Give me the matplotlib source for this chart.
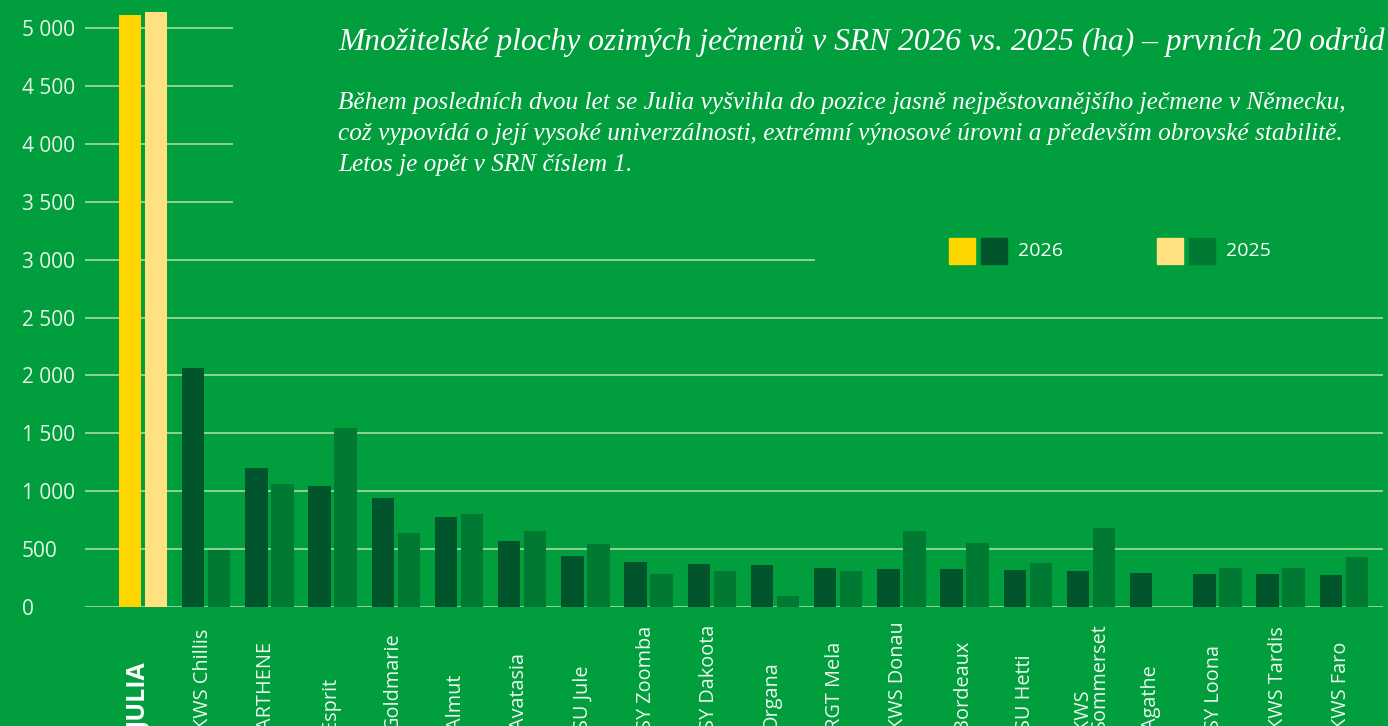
import numpy as np
import matplotlib
matplotlib.use("Agg")
import matplotlib.pyplot as plt
from matplotlib.ticker import FuncFormatter

# ---- data ----
odrudy = ["JULIA", "KWS Chillis", "ARTHENE", "Esprit", "Goldmarie", "Almut",
          "Avatasia", "SU Jule", "SY Zoomba", "SY Dakoota", "Organa", "RGT Mela",
          "KWS Donau", "Bordeaux", "SU Hetti", "KWS\nSommerset", "Agathe",
          "SY Loona", "KWS Tardis", "KWS Faro"]
plochy_2026 = [5110, 2060, 1200, 1045, 940, 775, 570, 440, 390, 370, 362, 337,
               328, 328, 320, 311, 294, 285, 285, 276]
plochy_2025 = [5135, 492, 1062, 1545, 640, 803, 655, 544, 285, 311, 95, 311,
               656, 553, 380, 682, 0, 337, 337, 432]
y_ticks = [0, 500, 1000, 1500, 2000, 2500, 3000, 3500, 4000, 4500, 5000]

# ---- barvy ----
BG = "#009e3d"
ZLUTA = "#ffd500"
ZLUTA_SV = "#ffe27f"
TM_ZELENA = "#00552d"
ZELENA = "#007a33"
GRID = "#a6dba6"

W, H = 1388, 726
fig = plt.figure(figsize=(W / 100, H / 100), dpi=100, facecolor=BG)

# osy: x od 85 px do 1383 px, y nula na 607 px, horni okraj = horni okraj obrazku
ax_l, ax_r, ax_b, ax_t = 85, 1383, 607, 0
ax = fig.add_axes([ax_l / W, (H - ax_b) / H, (ax_r - ax_l) / W, (ax_b - ax_t) / H])
ax.set_facecolor(BG)

px_per_ha = 579 / 5000
ax.set_ylim(0, (ax_b - ax_t) / px_per_ha)

krok = 63.2  # px mezi skupinami
stred0 = 143
ax.set_xlim(-(stred0 - ax_l) / krok, (ax_r - stred0) / krok)


def px2x(px):
    return (px - stred0) / krok


x = np.arange(len(odrudy))
sirka = 22.5 / krok
posun = 13 / krok

barvy_26 = [ZLUTA] + [TM_ZELENA] * (len(odrudy) - 1)
barvy_25 = [ZLUTA_SV] + [ZELENA] * (len(odrudy) - 1)
ax.bar(x - posun, plochy_2026, width=sirka, color=barvy_26, zorder=3)
ax.bar(x + posun, plochy_2025, width=sirka, color=barvy_25, zorder=3)

# mrizka - nektere linky jsou zkracene kvuli textu nadpisu
for v in y_ticks:
    if v >= 3500:
        xmax = px2x(233)
    elif v == 3000:
        xmax = px2x(815)
    else:
        xmax = px2x(ax_r)
    ax.hlines(v, px2x(ax_l), xmax, color=GRID, lw=1.2, zorder=1)

ax.set_yticks(y_ticks)
ax.yaxis.set_major_formatter(FuncFormatter(lambda v, p: f"{int(v):,}".replace(",", " ")))
ax.tick_params(axis="y", length=0, pad=(ax_l - 22) * 0.72, labelsize=15,
               labelcolor="#e8f4e8")
for lab in ax.get_yticklabels():
    lab.set_horizontalalignment("left")
    lab.set_fontfamily("Open Sans")
ax.set_xticks([])
for s in ax.spines.values():
    s.set_visible(False)

# popisky odrud (svisle, oriznute spodnim okrajem)
y_pop = -(730 - ax_b) / (ax_b - ax_t)
for i, name in enumerate(odrudy):
    if i == 0:
        ax.text(i - 3 / krok, y_pop, name, rotation=90, ha="center",
                va="bottom", color="white", fontsize=18, fontweight="bold",
                family="Open Sans", transform=ax.get_xaxis_transform(), clip_on=False)
    else:
        off = 0 if "\n" in name else -3 / krok
        ax.text(i + off, y_pop, name, rotation=90, ha="center", va="bottom",
                color="#eef7ee", fontsize=14.3, family="Open Sans", linespacing=0.9,
                multialignment="left",
                transform=ax.get_xaxis_transform(), clip_on=False)

# nadpis a podnadpis
fig.text(338 / W, 1 - 42 / H,
         "Množitelské plochy ozimých ječmenů v SRN 2026 vs. 2025 (ha) – prvních 20 odrůd",
         family="Liberation Serif", style="italic", fontsize=22.7, color="white",
         ha="left", va="center")
podnadpis = ("Během posledních dvou let se Julia vyšvihla do pozice jasně nejpěstovanějšího ječmene v Německu,\n"
             "což vypovídá o její vysoké univerzálnosti, extrémní výnosové úrovni a především obrovské stabilitě.\n"
             "Letos je opět v SRN číslem 1.")
fig.text(338 / W, 1 - 92 / H, podnadpis, family="Liberation Serif", style="italic",
         fontsize=18.2, color="white", ha="left", va="top", linespacing=1.53)

# legenda
def ctverec(px_x, barva):
    fig.patches.append(plt.Rectangle((px_x / W, 1 - 264 / H), 26 / W, 26 / H,
                                     transform=fig.transFigure, color=barva))

ctverec(949, ZLUTA)
ctverec(981, TM_ZELENA)
fig.text(1018 / W, 1 - 251 / H, "2026", color="white", fontsize=14,
         family="Open Sans", va="center")
ctverec(1157, ZLUTA_SV)
ctverec(1189, ZELENA)
fig.text(1226 / W, 1 - 251 / H, "2025", color="white", fontsize=14,
         family="Open Sans", va="center")

fig.savefig("out.png", dpi=100, facecolor=BG)
